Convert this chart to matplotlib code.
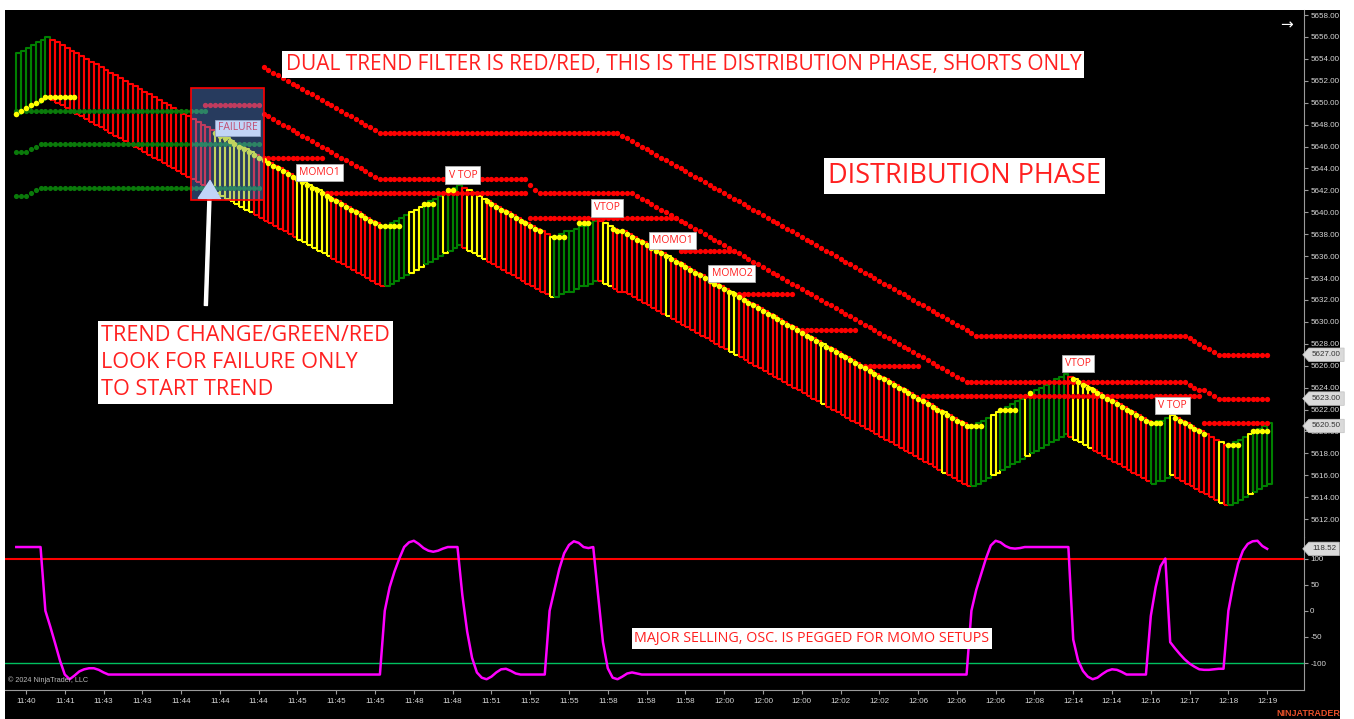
import numpy as np
import matplotlib
matplotlib.use("Agg")
import matplotlib.pyplot as plt
from matplotlib.collections import LineCollection
from matplotlib.patches import Rectangle
from matplotlib.path import Path

plt.rcParams['font.family'] = ['Liberation Sans', 'DejaVu Sans']

# ---- data --------------------------------------------------------------
TICK = 0.25          # ES tick, every bar moves its top by whole ticks
BAR_RANGE = 5.5      # height of each bar (points)

# bar tops: price of bar 0, then runs of (bars, ticks moved per bar)
HIGH_START = 5654.5
HIGH_RUNS = [(6, 1), (69, -1), (1, 0), (15, 1), (19, -1), (1, 0), (2, 1), (1, 0),
             (2, 1), (1, 0), (2, 1), (1, 0), (4, -1), (1, 0), (71, -1), (1, 0),
             (19, 1), (17, -1), (1, -1), (1, 1), (1, 0), (2, 1), (11, -1), (1, 0),
             (8, 1)]

# bar colours, runs of (colour, bars)
BAR_COLOR_RUNS = [('g', 7), ('r', 34), ('y', 8), ('r', 9), ('y', 7), ('r', 11),
                  ('g', 5), ('y', 3), ('g', 4), ('y', 1), ('g', 3), ('r', 1),
                  ('y', 4), ('r', 13), ('y', 1), ('g', 9), ('r', 1), ('y', 2),
                  ('r', 11), ('y', 1), ('r', 12), ('y', 2), ('r', 17), ('y', 1),
                  ('r', 24), ('y', 1), ('r', 5), ('g', 4), ('y', 2), ('g', 5),
                  ('y', 1), ('g', 8), ('r', 1), ('y', 4), ('r', 12), ('g', 4),
                  ('y', 1), ('r', 9), ('y', 1), ('r', 1), ('g', 4), ('y', 1),
                  ('g', 4)]

# the two stepping red bands (first bar, first price, runs)
BAND1_START = (51, 5653.25)
BAND1_RUNS = [(24, -1), (49, 0), (74, -1), (43, 0), (7, -1), (10, 0)]
BAND2_START = (51, 5649.0)
BAND2_RUNS = [(24, -1), (30, 0), (2, -2), (1, -1), (19, 0), (69, -1), (45, 0),
              (3, -1), (1, 0), (3, -1), (1, 0), (9, 0)]

# flat red dotted levels: (first bar, last bar, price)
RED_LEVELS = [(39, 50, 5649.75), (51, 63, 5645.0), (64, 105, 5641.75),
              (106, 136, 5639.5), (137, 148, 5636.5), (149, 160, 5632.5),
              (161, 173, 5629.25), (174, 186, 5626.0), (187, 244, 5623.25),
              (245, 258, 5620.75)]

# green dotted lines
GREEN_FLAT = [(0, 39, 5649.25)]
GREEN_STEP = [(5645.5, [(2, 0), (3, 1), (45, 0)]),
              (5641.5, [(2, 0), (3, 1), (45, 0)])]

# yellow trail dots
TRAIL_ON_LOW = [(0, 6)]
TRAIL_ON_HIGH = [(41, 75), (97, 108), (123, 196), (218, 233), (239, 245)]
TRAIL_FLAT = [(7, 12, 5650.5), (76, 79, 5638.75), (84, 86, 5640.75),
              (89, 90, 5642.0), (111, 113, 5637.75), (116, 118, 5639.0),
              (197, 199, 5620.5), (203, 206, 5622.0), (209, 209, 5623.5),
              (234, 236, 5620.75), (250, 252, 5618.75), (255, 258, 5620.0)]

# oscillator, (bar, value)
OSC_BAR = [0, 5, 6, 7, 8, 9, 10, 11, 12, 13, 14, 15, 16, 17, 18, 19, 75,
           76, 77, 78, 79, 80, 81, 82, 83, 84, 85, 86, 87, 88, 89, 91,
           92, 93, 94, 95, 96, 97, 98, 99, 100, 101, 102, 103, 104, 109,
           110, 111, 112, 113, 114, 115, 116, 117, 118, 119,
           120, 121, 122, 123, 124, 125, 126, 127, 128, 129, 196,
           197, 198, 199, 200, 201, 202, 203, 204, 205, 206, 207, 208, 217,
           218, 219, 220, 221, 222, 223, 224, 225, 226, 227, 228, 229, 233,
           234, 235, 236, 237, 238, 239, 240, 241, 242, 243, 244, 245, 246, 247, 248, 249,
           250, 251, 252, 253, 254, 255, 256, 257, 258]
OSC_VAL = [122, 122, 0, -30, -62, -95, -122, -131, -124, -116, -112, -110, -110, -113, -118, -122, -122,
           0, 45, 75, 100, 122, 131, 134, 128, 120, 115, 113, 115, 119, 122, 122,
           30, -40, -90, -118, -128, -131, -126, -118, -112, -111, -115, -120, -122, -122,
           0, 40, 80, 110, 126, 133, 130, 122, 120, 122,
           30, -60, -110, -128, -131, -126, -120, -118, -120, -122, -122,
           0, 40, 70, 100, 125, 134, 131, 124, 120, 119, 120, 122, 122,
           -55, -95, -115, -126, -131, -128, -121, -115, -112, -113, -117, -122, -122,
           -10, 45, 85, 100, -60, -72, -83, -93, -101, -107, -112, -113, -113, -112, -111, -111,
           0, 50, 90, 115, 128, 133, 134, 124, 118.52]

TIME_LABELS = ["11:40", "11:41", "11:43", "11:43", "11:44", "11:44", "11:44", "11:45",
               "11:45", "11:45", "11:48", "11:48", "11:51", "11:52", "11:55", "11:58",
               "11:58", "11:58", "12:00", "12:00", "12:00", "12:02", "12:02", "12:06",
               "12:06", "12:06", "12:08", "12:14", "12:14", "12:16", "12:17", "12:18",
               "12:19"]
PRICE_TICKS = np.arange(5612, 5659, 2)
OSC_TICKS = [100, 50, 0, -50, -100]
PRICE_FLAGS = [(5627.0, "5627.00"), (5623.0, "5623.00"), (5620.5, "5620.50")]
OSC_FLAG = (118.52, "118.52")

COL = {'g': '#008000', 'r': '#ff0000', 'y': '#ffff00'}
TXT_RED = '#ff2020'
AXIS_GREY = '#9a9a9a'
LABEL_GREY = '#d8d8d8'


def expand(start, runs):
    steps = [0]
    for n, t in runs:
        steps += [t] * n
    return start + TICK * np.cumsum(steps)


def flag_box(x0, y0, width, height, mutation_size):
    # NinjaTrader style price flag, pointed on the left
    pad = 0.4 * mutation_size
    x0, y0 = x0 - pad, y0 - pad
    x1, y1 = x0 + width + 2 * pad, y0 + height + 2 * pad
    tip = x0 - (y1 - y0) * 0.45
    ym = (y0 + y1) / 2
    return Path([(tip, ym), (x0, y0), (x1, y0), (x1, y1), (x0, y1), (tip, ym)],
                closed=True)


# ---- figure -------------------------------------------------------------
W, H = 1354, 719
fig = plt.figure(figsize=(W / 100, H / 100), dpi=100, facecolor='white')
fig.add_artist(Rectangle((5 / W, 0), 1335 / W, 1 - 10 / H, transform=fig.transFigure,
                         facecolor='black', edgecolor='none', zorder=0))

ax = fig.add_axes([5 / W, 1 - 537 / H, 1299 / W, 527 / H])
axo = fig.add_axes([5 / W, 1 - 690 / H, 1299 / W, 153 / H])
for a in (ax, axo):
    a.set_facecolor('black')
    a.set_xlim(-2.33, 265.6)
    for s in a.spines.values():
        s.set_visible(False)
    a.spines['right'].set_visible(True)
    a.spines['right'].set_color(AXIS_GREY)
    a.yaxis.tick_right()
    a.tick_params(axis='y', colors=AXIS_GREY, labelcolor=LABEL_GREY, labelsize=5.8,
                  length=3, width=0.8, pad=1.5)
ax.set_ylim(5610.37, 5658.46)
axo.set_ylim(-151.6, 141.2)

# ---- price bars ---------------------------------------------------------
high = expand(HIGH_START, HIGH_RUNS)
low = high - BAR_RANGE
bars = np.arange(len(high))
bar_cols = [COL[c] for c, n in BAR_COLOR_RUNS for _ in range(n)]
segs = [[(i, lo), (i, hi), (i + 1, hi), (i + 1, lo), (i, lo)]
        for i, lo, hi in zip(bars, low, high)]
ax.add_collection(LineCollection(segs, colors=bar_cols, linewidths=1.5, zorder=2))

# red bands and levels
for (i0, p0), runs in ((BAND1_START, BAND1_RUNS), (BAND2_START, BAND2_RUNS)):
    vals = expand(p0, runs)
    ax.plot(np.arange(i0, i0 + len(vals)), vals, 'o', color='#ff0000', ms=3.8,
            mec='none', zorder=3)
for i0, i1, p in RED_LEVELS:
    xs = np.arange(i0, i1 + 1)
    ax.plot(xs, [p] * len(xs), 'o', color='#ff0000', ms=3.8, mec='none', zorder=3)

# green lines
for i0, i1, p in GREEN_FLAT:
    xs = np.arange(i0, i1 + 1)
    ax.plot(xs, [p] * len(xs), 'o', color='#0a7a0a', ms=3.7, mec='none', zorder=3)
for p0, runs in GREEN_STEP:
    vals = expand(p0, runs)
    ax.plot(np.arange(len(vals)), vals, 'o', color='#0a7a0a', ms=3.7, mec='none', zorder=3)

# yellow trail
tx, ty = [], []
for i0, i1 in TRAIL_ON_LOW:
    tx += list(range(i0, i1 + 1)); ty += list(low[i0:i1 + 1])
for i0, i1 in TRAIL_ON_HIGH:
    tx += list(range(i0, i1 + 1)); ty += list(high[i0:i1 + 1])
for i0, i1, p in TRAIL_FLAT:
    tx += list(range(i0, i1 + 1)); ty += [p] * (i1 - i0 + 1)
ax.plot(tx, ty, 'o', color='#ffff00', ms=4.0, mec='none', zorder=4)

# failure box, arrow and small label (tinted by the box overlay)
ax.annotate('', xy=(39.96, 5642.9), xytext=(39.1, 5631.5),
            arrowprops=dict(width=2.2, headwidth=16, headlength=13, facecolor='white',
                            edgecolor='white', shrink=0), zorder=5)
ax.text(45.7, 5647.7, 'FAILURE', color=TXT_RED, fontsize=7.5, family='Open Sans',
        ha='center', va='center', zorder=5,
        bbox=dict(boxstyle='square,pad=0.25', fc='white', ec='#b0b0b0', lw=0.6))
ax.add_patch(Rectangle((36.0, 5641.12), 15.1, 10.22, facecolor='cornflowerblue',
                       alpha=0.4, edgecolor='none', zorder=6))
ax.add_patch(Rectangle((36.0, 5641.12), 15.1, 10.22, facecolor='none',
                       edgecolor='#ff0000', lw=1.2, zorder=7))

# small setup labels
SETUP_LABELS = [(62.6, 5643.6, 'MOMO1'), (92.1, 5643.4, 'V TOP'), (121.8, 5640.4, 'VTOP'),
                (135.4, 5637.4, 'MOMO1'), (147.6, 5634.4, 'MOMO2'), (219.0, 5626.2, 'VTOP'),
                (238.4, 5622.4, 'V TOP')]
for x, y, t in SETUP_LABELS:
    ax.text(x, y, t, color=TXT_RED, fontsize=7.5, family='Open Sans', ha='center',
            va='center', zorder=9,
            bbox=dict(boxstyle='square,pad=0.3', fc='white', ec='#b0b0b0', lw=0.6))

# big text boxes
ax.text(137.6, 5653.5,
        'DUAL TREND FILTER IS RED/RED, THIS IS THE DISTRIBUTION PHASE, SHORTS ONLY',
        color=TXT_RED, fontsize=15, family='Open Sans', ha='center', va='center', zorder=9,
        bbox=dict(boxstyle='square,pad=0.15', fc='white', ec='none'))
ax.text(195.6, 5643.3, 'DISTRIBUTION PHASE', color=TXT_RED, fontsize=19.5,
        family='Open Sans', ha='center', va='center', zorder=9,
        bbox=dict(boxstyle='square,pad=0.15', fc='white', ec='none'))
ax.text(17.5, 5626.3, 'TREND CHANGE/GREEN/RED\nLOOK FOR FAILURE ONLY\nTO START TREND',
        color=TXT_RED, fontsize=15.6, family='Open Sans', ha='left', va='center',
        linespacing=1.4, zorder=9,
        bbox=dict(boxstyle='square,pad=0.15', fc='white', ec='none'))

ax.text(0.9869, 0.9715, '\u2192', transform=ax.transAxes, color='white', fontsize=11,
        family='DejaVu Sans', ha='center', va='center')

# price axis
ax.set_xticks([])
ax.set_yticks(PRICE_TICKS)
ax.set_yticklabels([f"{p:.2f}" for p in PRICE_TICKS])
for p, t in PRICE_FLAGS:
    ax.annotate(t, xy=(1, p), xycoords=ax.get_yaxis_transform(), xytext=(8, 0),
                textcoords='offset pixels', ha='left', va='center', fontsize=5.8,
                color='#333333', zorder=10, annotation_clip=False,
                bbox=dict(boxstyle=flag_box, fc='#dadada', ec='#c0c0c0', lw=0.5))

# ---- oscillator ---------------------------------------------------------
axo.axhline(100, color='#ff0000', lw=1.5, zorder=2)
axo.axhline(-100, color='#00c060', lw=1.0, zorder=2)
axo.plot(OSC_BAR, OSC_VAL, color='#ff00ff', lw=1.8, zorder=3)
axo.text(164.1, -52.9, 'MAJOR SELLING, OSC. IS PEGGED FOR MOMO SETUPS', color=TXT_RED,
         fontsize=10.3, family='Open Sans', ha='center', va='center', zorder=9,
         bbox=dict(boxstyle='square,pad=0.2', fc='white', ec='none'))
axo.set_yticks(OSC_TICKS)
axo.set_yticklabels([str(v) for v in OSC_TICKS])
axo.annotate(OSC_FLAG[1], xy=(1, OSC_FLAG[0]), xycoords=axo.get_yaxis_transform(),
             xytext=(8, 0), textcoords='offset pixels', ha='left', va='center',
             fontsize=5.8, color='#333333', zorder=10, annotation_clip=False,
             bbox=dict(boxstyle=flag_box, fc='#dadada', ec='#c0c0c0', lw=0.5))

axo.spines['bottom'].set_visible(True)
axo.spines['bottom'].set_color(AXIS_GREY)
axo.set_xticks(list(range(2, 259, 8)))
axo.set_xticklabels(TIME_LABELS)
axo.tick_params(axis='x', colors=AXIS_GREY, labelcolor=LABEL_GREY, labelsize=5.8,
                length=3, width=0.8, pad=2.5)
axo.text(0.0023, 0.065, '\u00a9 2024 NinjaTrader, LLC', transform=axo.transAxes,
         color='#bbbbbb', fontsize=5.2, ha='left', va='center')

fig.text(1340 / W, 1.5 / H, 'NINJATRADER', color='#e8502a', fontsize=6.5,
         fontweight='bold', ha='right', va='bottom')

fig.savefig('out.png', dpi=100, facecolor='white')
